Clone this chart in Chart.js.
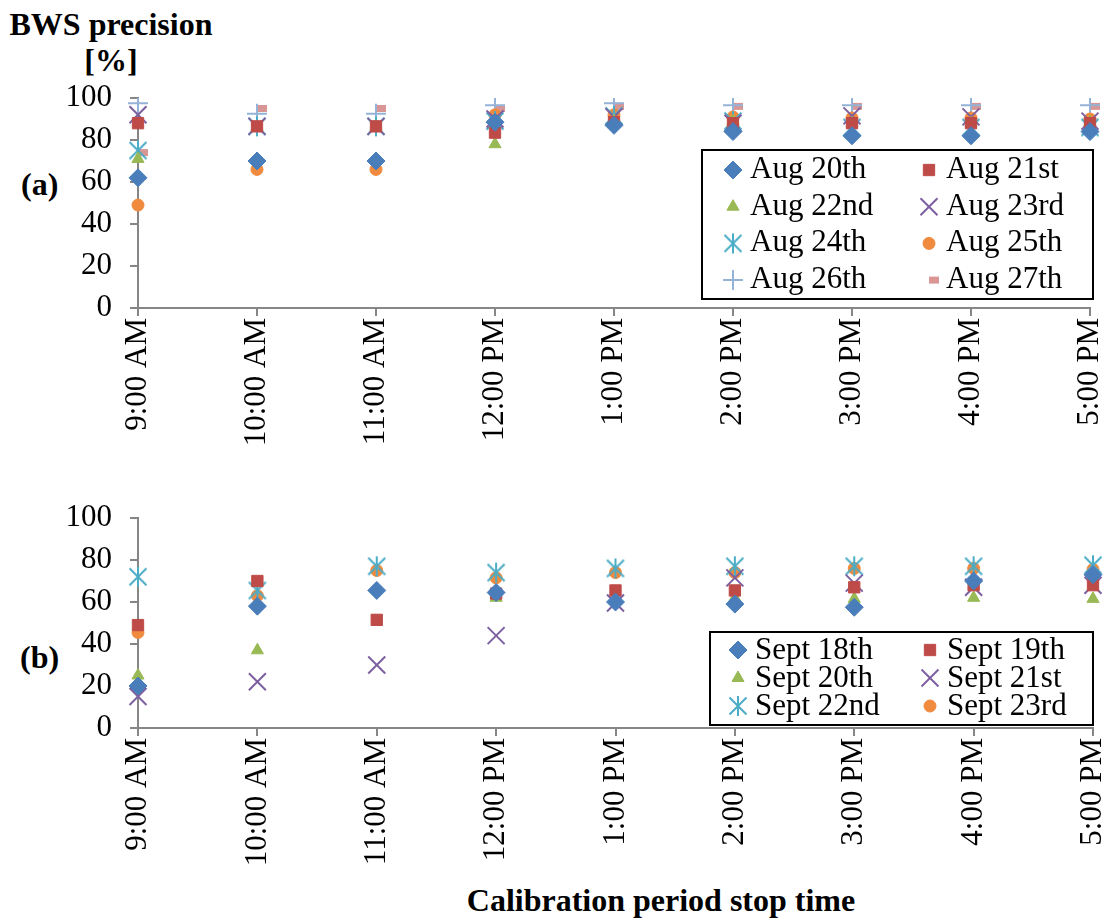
<!DOCTYPE html>
<html>
<head>
<meta charset="utf-8">
<script src="https://cdn.jsdelivr.net/npm/chart.js@4.4.1/dist/chart.umd.min.js"></script>
<style>
  html, body { margin: 0; padding: 0; background: #fff; }
  body { width: 1107px; height: 918px; position: relative; overflow: hidden;
         font-family: 'Liberation Serif', 'Times New Roman', serif; }
  .lbl { position: absolute; font-weight: bold; font-size: 32px; line-height: 32px; color: #000; white-space: nowrap; }
  .box { position: absolute; left: 0; width: 1107px; }
</style>
</head>
<body>
<div class="lbl" style="left:0; width:222px; text-align:center; top:8px;">BWS precision</div>
<div class="lbl" style="left:0; width:222px; text-align:center; top:44px;">[%]</div>
<div class="lbl" style="left:21px; top:168px;">(a)</div>
<div class="lbl" style="left:20px; top:641px;">(b)</div>
<div class="lbl" style="left:0; width:1322px; text-align:center; top:884px;">Calibration period stop time</div>

<div class="box" style="top:80px; height:380px;"><canvas id="chartA"></canvas></div>
<div class="box" style="top:500px; height:380px;"><canvas id="chartB"></canvas></div>

<script>
// categories
const stopTimes = ["9:00 AM", "10:00 AM", "11:00 AM", "12:00 PM", "1:00 PM", "2:00 PM", "3:00 PM", "4:00 PM", "5:00 PM"];
const yTicks = [0, 20, 40, 60, 80, 100];

// panel (a) - August
const aug20 = [62, 70, 70, 88.5, 87, 84, 82, 82, 84];
const aug21 = [88, 86.5, 86.5, 83.5, 88.5, 88, 88, 88, 88];
const aug22 = [71, 86, 86, 78, 89, 89, 88, 88, 88.5];
const aug23 = [92, 86.5, 86.5, 90, 91, 88, 91.5, 91, 89];
const aug24 = [75, 86.5, 86.5, 89, 91.5, 89, 86, 86, 86];
const aug25 = [49, 66, 66, 92, 92, 91, 90.5, 90.5, 90];
const aug26 = [97.5, 92.5, 92.5, 96.5, 97.5, 96.5, 96.5, 96.5, 96.5];
const aug27 = [74, 95, 95, 95, 96, 96, 96, 96, 96];

// panel (b) - September
const sep18 = [20, 58, 65.5, 64.5, 60, 59, 57.5, 70, 73];
const sep19 = [49, 70, 51.5, 64, 65.5, 65.5, 67, 68, 68];
const sep20 = [25, 37, 66, 62, 61.5, 62, 61.5, 62, 61.5];
const sep21 = [15, 22, 30, 44, 59.5, 71.5, 69, 67, 68];
const sep22 = [72, 65.5, 77, 74, 76, 77, 77, 77, 77.5];
const sep23 = [45.5, 63, 75, 71.5, 74, 74, 76, 76, 75.5];

const AXIS = "#868686";
const FONT = "'Liberation Serif', 'Times New Roman', serif";
Chart.defaults.font.family = FONT;
Chart.defaults.color = "#000";

// Excel style asterisk marker (X plus a vertical bar)
function asterisk(color) {
    const c = document.createElement("canvas");
    c.width = 24; c.height = 24;
    const g = c.getContext("2d");
    g.strokeStyle = color;
    g.lineWidth = 2;
    g.beginPath();
    g.moveTo(12 - 8.5, 12 - 8.5); g.lineTo(12 + 8.5, 12 + 8.5);
    g.moveTo(12 + 8.5, 12 - 8.5); g.lineTo(12 - 8.5, 12 + 8.5);
    g.moveTo(12, 2); g.lineTo(12, 22);
    g.stroke();
    return c;
}

const markers = [
    { pointStyle: "rectRot", pointRadius: 9, pointBorderWidth: 1, color: "#4A7EBB", fill: true },
    { pointStyle: "rect", pointRadius: 8, pointBorderWidth: 1, color: "#BE4B48", fill: true },
    { pointStyle: "triangle", pointRadius: 7, pointBorderWidth: 1, color: "#98B954", fill: true },
    { pointStyle: "crossRot", pointRadius: 12, pointBorderWidth: 2, color: "#7D60A0", fill: false },
    { pointStyle: asterisk("#4BACC6"), pointRadius: 10, pointBorderWidth: 0, color: "#4BACC6", fill: false },
    { pointStyle: "circle", pointRadius: 6, pointBorderWidth: 1, color: "#F08A3E", fill: true },
    { pointStyle: "cross", pointRadius: 10, pointBorderWidth: 2, color: "#95B3D7", fill: false },
    { pointStyle: "dash", pointRadius: 10, pointBorderWidth: 7, color: "#D99694", fill: false }
];

function makeSets(labels, series) {
    return series.map((vals, i) => {
        const m = markers[i];
        return {
            label: labels[i],
            data: vals,
            showLine: false,
            pointStyle: m.pointStyle,
            pointRadius: m.pointRadius,
            pointHoverRadius: m.pointRadius,
            pointBorderWidth: m.pointBorderWidth,
            pointBorderColor: m.color,
            pointBackgroundColor: m.fill ? m.color : "rgba(0,0,0,0)",
            borderColor: m.color,
            backgroundColor: m.color
        };
    });
}

// legend drawn as a framed box inside the plot, two columns
const boxLegend = {
    id: "boxLegend",
    afterDraw(chart, args, o) {
        const ctx = chart.ctx;
        ctx.save();
        ctx.fillStyle = "#fff";
        ctx.fillRect(o.left, o.top, o.width, o.height);
        ctx.strokeStyle = "#000";
        ctx.lineWidth = 2;
        ctx.strokeRect(o.left, o.top, o.width, o.height);
        chart.data.datasets.forEach((ds, i) => {
            const col = i % 2, row = Math.floor(i / 2);
            const y = o.firstRow + row * o.rowGap;
            ctx.fillStyle = ds.pointBackgroundColor;
            ctx.strokeStyle = ds.pointBorderColor;
            ctx.lineWidth = ds.pointBorderWidth;
            Chart.helpers.drawPoint(ctx, {
                pointStyle: ds.pointStyle,
                radius: ds.pointRadius,
                rotation: 0,
                borderWidth: ds.pointBorderWidth
            }, o.markerX[col], y);
            ctx.fillStyle = "#000";
            ctx.font = "31px " + FONT;
            ctx.textBaseline = "alphabetic";
            ctx.textAlign = "left";
            ctx.fillText(ds.label, o.textX[col], y + o.shift);
        });
        ctx.restore();
    }
};

function makeChart(id, labels, series, legend) {
    return new Chart(document.getElementById(id), {
        type: "line",
        data: { labels: stopTimes, datasets: makeSets(labels, series) },
        options: {
            responsive: true,
            maintainAspectRatio: false,
            animation: false,
            layout: { padding: { top: 18, right: 14, bottom: 0, left: 0 } },
            plugins: {
                legend: { display: false },
                tooltip: { enabled: false },
                boxLegend: legend
            },
            scales: {
                x: {
                    type: "category",
                    offset: false,
                    grid: { display: true, drawOnChartArea: false, drawTicks: true, tickLength: 8, color: AXIS, lineWidth: 2 },
                    border: { display: true, color: AXIS, width: 2 },
                    ticks: { autoSkip: false, minRotation: 90, maxRotation: 90, padding: 2, color: "#000", font: { size: 31 } },
                    afterFit: s => { s.height = 152; s.paddingLeft = 0; s.paddingRight = 0; }
                },
                y: {
                    min: yTicks[0],
                    max: yTicks[yTicks.length - 1],
                    grid: { display: true, drawOnChartArea: false, drawTicks: true, tickLength: 8, color: AXIS, lineWidth: 2 },
                    border: { display: true, color: AXIS, width: 2 },
                    ticks: { stepSize: 20, autoSkip: false, padding: 18, color: "#000", font: { size: 31 } },
                    afterBuildTicks: s => { s.ticks = yTicks.map(v => ({ value: v })); },
                    afterFit: s => { s.width = 138; s.paddingTop = 0; s.paddingBottom = 0; }
                }
            }
        },
        plugins: [boxLegend]
    });
}

makeChart("chartA",
    ["Aug 20th", "Aug 21st", "Aug 22nd", "Aug 23rd", "Aug 24th", "Aug 25th", "Aug 26th", "Aug 27th"],
    [aug20, aug21, aug22, aug23, aug24, aug25, aug26, aug27],
    { left: 702, top: 70, width: 391, height: 149, firstRow: 90, rowGap: 36.7, markerX: [733, 929], textX: [750, 946], shift: 8 });

makeChart("chartB",
    ["Sept 18th", "Sept 19th", "Sept 20th", "Sept 21st", "Sept 22nd", "Sept 23rd"],
    [sep18, sep19, sep20, sep21, sep22, sep23],
    { left: 710, top: 132, width: 383, height: 93, firstRow: 150, rowGap: 28, markerX: [738, 930], textX: [755, 947], shift: 9 });
</script>
</body>
</html>
